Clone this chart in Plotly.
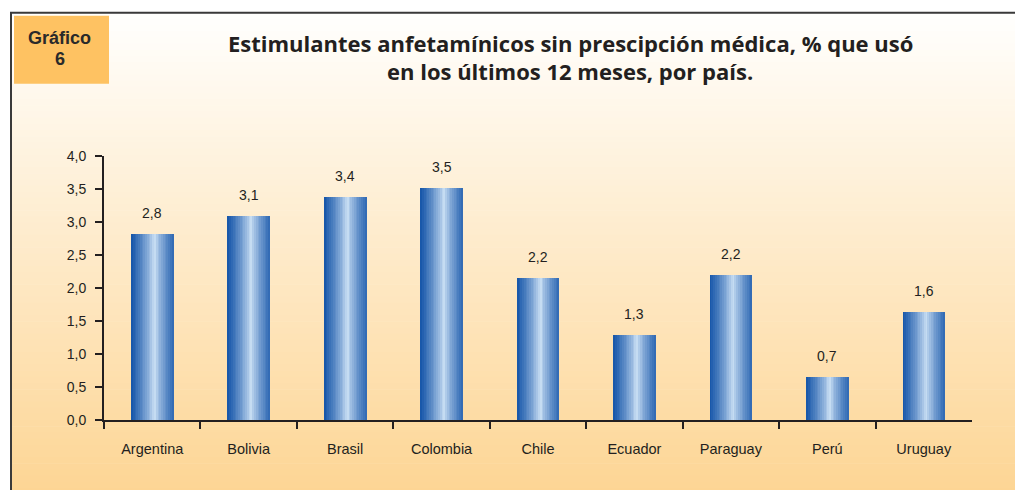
import plotly.graph_objects as go

countries = ["Argentina", "Bolivia", "Brasil", "Colombia", "Chile", "Ecuador", "Paraguay", "Perú", "Uruguay"]
values = [2.82, 3.09, 3.38, 3.52, 2.16, 1.29, 2.20, 0.66, 1.64]
labels = ["2,8", "3,1", "3,4", "3,5", "2,2", "1,3", "2,2", "0,7", "1,6"]
y_ticks = [0, 0.5, 1.0, 1.5, 2.0, 2.5, 3.0, 3.5, 4.0]
y_ticktext = ["0,0", "0,5", "1,0", "1,5", "2,0", "2,5", "3,0", "3,5", "4,0"]
title_lines = ["Estimulantes anfetamínicos sin prescipción médica, % que usó",
               "en los últimos 12 meses, por país."]
badge_lines = ["Gráfico", "6"]

W, H = 1015, 490
# observed rendering maps figure pixel p -> A + K*p vertically; compensate
A, K = 7.3, 0.966

def px(x):
    return x / W
def py(y):
    return 1 - ((y - A) / K) / H

def mix(a, b, t):
    return tuple(round(a[i] + (b[i] - a[i]) * t) for i in range(3))

fig = go.Figure()

# cylinder-like bars as vertical strips
bw = 0.44
N = 24
dark = (20, 84, 168)
light = (208, 228, 247)
for i in range(N):
    pos = (i + 0.5) / N
    t = min(1.0, abs(pos - 0.55) / 0.55)
    c = mix(light, dark, t ** 0.75)
    fig.add_trace(go.Bar(
        x=countries, y=values,
        width=bw / N * 1.15, offset=-bw / 2 + i * bw / N,
        marker=dict(color="rgb(%d,%d,%d)" % c, line=dict(width=0)),
        hoverinfo="skip", showlegend=False,
    ))

shapes = []
# background gradient
y_top, y_bot = 12, 505
S = 80
top_c = (255, 255, 254)
bot_c = (253, 212, 145)
for k in range(S):
    y0 = y_top + (y_bot - y_top) * k / S
    y1 = y_top + (y_bot - y_top) * (k + 1) / S + 0.6
    c = mix(top_c, bot_c, (k + 0.5) / S)
    shapes.append(dict(type="rect", xref="paper", yref="paper",
                       x0=px(11), x1=px(1016), y0=py(y1), y1=py(y0),
                       fillcolor="rgb(%d,%d,%d)" % c, line=dict(width=0), layer="below"))
# white band above the frame
shapes.append(dict(type="rect", xref="paper", yref="paper",
                   x0=px(-5), x1=px(1020), y0=py(12), y1=py(-20),
                   fillcolor="white", line=dict(width=0), layer="below"))
# border
shapes.append(dict(type="rect", xref="paper", yref="paper",
                   x0=px(11), x1=px(1018), y0=py(510), y1=py(12),
                   fillcolor="rgba(0,0,0,0)", line=dict(color="#3a3a3a", width=2), layer="below"))
# Gráfico box
shapes.append(dict(type="rect", xref="paper", yref="paper",
                   x0=px(14), x1=px(109), y0=py(83), y1=py(15),
                   fillcolor="#FEC262", line=dict(width=0), layer="below"))

annotations = [
    dict(text="<b>" + badge_lines[0] + "</b>", xref="paper", yref="paper", x=px(59.5), y=py(37),
         showarrow=False, font=dict(family="Liberation Sans, Arial", size=18, color="#2a2a2a"),
         xanchor="center", yanchor="middle"),
    dict(text="<b>" + badge_lines[1] + "</b>", xref="paper", yref="paper", x=px(59.5), y=py(58.5),
         showarrow=False, font=dict(family="Liberation Sans, Arial", size=18, color="#2a2a2a"),
         xanchor="center", yanchor="middle"),
    dict(text="<b>" + title_lines[0] + "</b>", xref="paper", yref="paper", x=px(570), y=py(42),
         showarrow=False, font=dict(family="Open Sans", size=22, color="#231f20"),
         xanchor="center", yanchor="middle"),
    dict(text="<b>" + title_lines[1] + "</b>", xref="paper", yref="paper", x=px(570), y=py(70),
         showarrow=False, font=dict(family="Open Sans", size=22, color="#231f20"),
         xanchor="center", yanchor="middle"),
]
for c, v, t in zip(countries, values, labels):
    annotations.append(dict(text=t, x=c, y=v, xref="x", yref="y", showarrow=False,
                            yshift=21, font=dict(family="Liberation Sans, Arial", size=14, color="#231f20")))

fig.update_layout(
    width=W, height=H,
    margin=dict(l=0, r=0, t=0, b=0),
    paper_bgcolor="white", plot_bgcolor="rgba(0,0,0,0)",
    barmode="overlay", bargap=0,
    shapes=shapes, annotations=annotations,
    font=dict(family="Liberation Sans, Arial", size=14, color="#231f20"),
    xaxis=dict(domain=[px(104), px(972)], showgrid=False, showline=True, linecolor="#231f20",
               linewidth=2, ticks="outside", tickson="boundaries", ticklen=7, tickwidth=2,
               tickcolor="#231f20", ticklabelstandoff=14, anchor="y",
               tickfont=dict(size=14.5, color="#231f20")),
    yaxis=dict(domain=[py(419), py(155)], range=[0, 4], showgrid=False, showline=True,
               linecolor="#231f20", linewidth=2, ticks="outside", ticklen=7, tickwidth=2,
               tickcolor="#231f20", tickvals=y_ticks, ticktext=y_ticktext, zeroline=False,
               ticklabelstandoff=6, tickfont=dict(size=14, color="#231f20")),
)

fig.write_html(
    "out.html",
    config={"displayModeBar": False},
    post_script=(
        "var d=document.getElementById('{plot_id}');"
        "d.style.position='fixed';d.style.top='0px';d.style.left='0px';"
        "document.body.style.margin='0';document.body.style.overflow='hidden';"
        "document.documentElement.style.overflow='hidden';"
        "document.body.style.height='490px';document.documentElement.style.height='490px';"
    ),
)
